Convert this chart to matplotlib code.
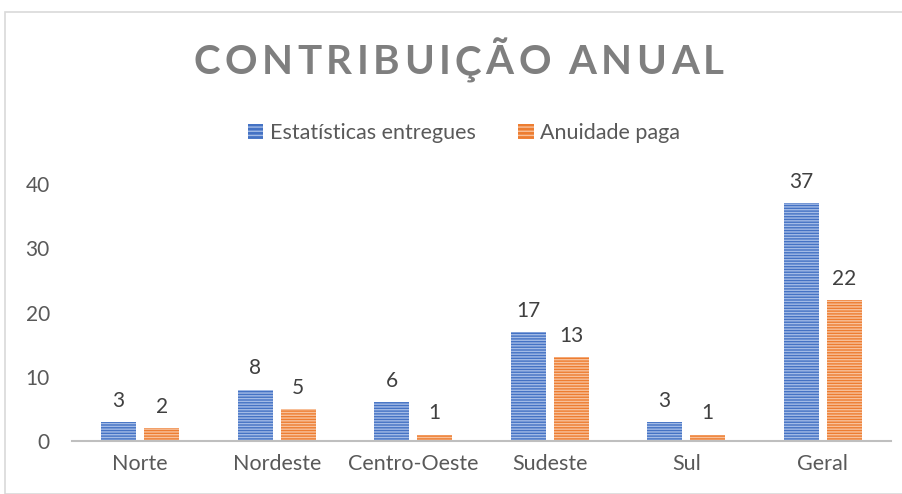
import matplotlib
matplotlib.use("Agg")
import matplotlib.pyplot as plt
import numpy as np
from matplotlib.patches import Rectangle, Patch

categories = ["Norte", "Nordeste", "Centro-Oeste", "Sudeste", "Sul", "Geral"]
estatisticas = [3, 8, 6, 17, 3, 37]
anuidade = [2, 5, 1, 13, 1, 22]
series_names = ["Estatísticas entregues", "Anuidade paga"]
yticks = [0, 10, 20, 30, 40]
title = "CONTRIBUIÇÃO ANUAL"

plt.rcParams['font.family'] = ['Lato', 'DejaVu Sans']
plt.rcParams['hatch.linewidth'] = 1.0

W, H = 902, 494
fig = plt.figure(figsize=(W/100, H/100), dpi=100)

# outer frame
fig.patches.append(Rectangle((5/W, 0), 1, 1 - 12/H, transform=fig.transFigure,
                             fill=False, edgecolor="#d9d9d9", lw=1.2))

ax_l, ax_r = 72, 891
ax_b, ax_t = 441, 184
ax = fig.add_axes([ax_l/W, 1 - ax_b/H, (ax_r-ax_l)/W, (ax_b-ax_t)/H])

x = np.arange(len(categories))
bw = 0.256
gap = 0.06
blue, blue_h = "#4472C4", "#a3bbe6"
orange, orange_h = "#ED7D31", "#f8c19b"
b1 = ax.bar(x - gap/2 - bw/2, estatisticas, bw, color=blue, edgecolor=blue_h, lw=0, hatch="------")
b2 = ax.bar(x + gap/2 + bw/2, anuidade, bw, color=orange, edgecolor=orange_h, lw=0, hatch="------")

for bars, vals in ((b1, estatisticas), (b2, anuidade)):
    for r, v in zip(bars, vals):
        ax.annotate(str(v), (r.get_x() + r.get_width()/2, v), xytext=(0, 8),
                    textcoords="offset points", ha="center", va="bottom",
                    fontsize=15, color="#404040")

ax.set_xlim(-0.5, len(categories) - 0.5)
ax.set_ylim(0, 40)
ax.set_yticks(yticks)
ax.set_xticks(x)
ax.set_xticklabels(categories, fontsize=15.5)
ax.tick_params(axis="both", length=0, labelcolor="#595959")
ax.tick_params(axis="y", labelsize=15, pad=16)
ax.tick_params(axis="x", pad=9)
for s in ("top", "right", "left"):
    ax.spines[s].set_visible(False)
ax.spines["bottom"].set_color("#bfbfbf")
ax.spines["bottom"].set_linewidth(1.5)
ax.patch.set_alpha(0)

# legend
handles = [Patch(facecolor=blue, edgecolor=blue_h, lw=0, hatch="----"),
           Patch(facecolor=orange, edgecolor=orange_h, lw=0, hatch="----")]
fig.legend(handles, series_names, loc="center", bbox_to_anchor=(464/W, 1 - 133/H),
           ncol=2, frameon=False, fontsize=15.5, labelcolor="#595959",
           handlelength=0.7, handleheight=0.7, handletextpad=0.3, columnspacing=2.0)

# spaced title
fig.canvas.draw()
renderer = fig.canvas.get_renderer()
spacing = 4.5
fs = 29
chars = []
widths = []
for ch in title:
    t = fig.text(0, 0, ch, fontsize=fs, fontweight="bold", color="#7f7f7f",
                 ha="left", va="center")
    chars.append(t)
    widths.append(t.get_window_extent(renderer).width if ch != " " else fs*0.3)
total = sum(widths) + spacing*(len(title)-1)
start = 459 - total/2
cx = start
for t, w in zip(chars, widths):
    t.set_position((cx/W, 1 - 63/H))
    cx += w + spacing

fig.savefig("out.png", dpi=100)
